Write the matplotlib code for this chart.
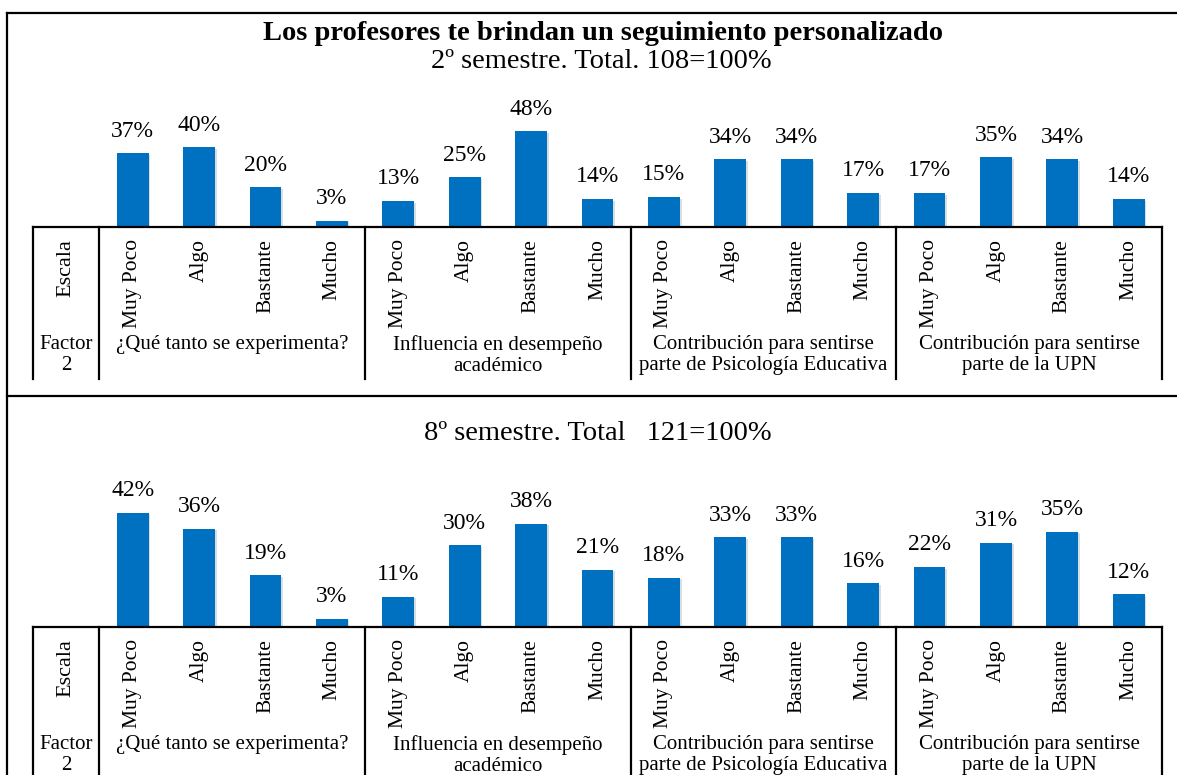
import numpy as np
import matplotlib
matplotlib.use('Agg')
import matplotlib.pyplot as plt
from matplotlib import transforms
from matplotlib import patheffects
from matplotlib.lines import Line2D

plt.rcParams['font.family'] = ['Liberation Serif', 'DejaVu Serif']

# Datos
escala = ['Muy Poco', 'Algo', 'Bastante', 'Mucho']
grupos = ['¿Qué tanto se experimenta?',
          'Influencia en desempeño\nacadémico',
          'Contribución para sentirse\nparte de Psicología Educativa',
          'Contribución para sentirse\nparte de la UPN']
sem2 = [37, 40, 20, 3, 13, 25, 48, 14, 15, 34, 34, 17, 17, 35, 34, 14]
sem8 = [42, 36, 19, 3, 11, 30, 38, 21, 18, 33, 33, 16, 22, 31, 35, 12]
titulo = 'Los profesores te brindan un seguimiento personalizado'
sub2 = '2º semestre. Total. 108=100%'
sub8 = '8º semestre. Total   121=100%'

AZUL = '#0070C0'
W, H = 1177, 775


def fx(px):
    return px / W


def fy(py):
    return 1 - py / H


fig = plt.figure(figsize=(W / 100, H / 100), dpi=100)

# Marcos de los paneles
fig.add_artist(Line2D([fx(7), 1.0], [fy(13), fy(13)], color='black', lw=1.6))
fig.add_artist(Line2D([fx(7), 1.0], [fy(396), fy(396)], color='black', lw=1.6))
fig.add_artist(Line2D([fx(7), fx(7)], [fy(13), 0.0], color='black', lw=1.6))

sombra = [patheffects.SimplePatchShadow(offset=(1.2, -1), alpha=0.15), patheffects.Normal()]


def panel(eje_y, alto, valores, ymax):
    ax = fig.add_axes([fx(33), fy(eje_y), (1162 - 33) / W, alto / H])
    n = len(valores)
    x = np.arange(n) + 1.5  # la primera columna es "Escala"
    rects = ax.bar(x, valores, width=0.48, color=AZUL)
    for r, v in zip(rects, valores):
        r.set_path_effects(sombra)
        ax.annotate(f'{v}%', (r.get_x() + r.get_width() / 2, r.get_height()),
                    xytext=(0, 12), textcoords='offset points',
                    ha='center', va='baseline', fontsize=17)
    ax.set_xlim(0, n + 1)
    ax.set_ylim(0, ymax)
    ax.axis('off')
    ax.axhline(0, color='black', lw=1.6, clip_on=False)

    tr = transforms.blended_transform_factory(ax.transData, fig.transFigure)
    # separadores verticales
    for xs in [0, 1, 5, 9, 13, 17]:
        fig.add_artist(Line2D([xs, xs], [fy(eje_y), fy(eje_y + 152)],
                              transform=tr, color='black', lw=1.6))
    # etiquetas de escala
    ax.text(0.5, fy(eje_y + 12), 'Escala', transform=tr, rotation=90,
            ha='center', va='top', fontsize=16)
    for i in range(n):
        ax.text(x[i], fy(eje_y + 12), escala[i % 4], transform=tr, rotation=90,
                ha='center', va='top', fontsize=15.5)
    # factor y grupos
    ax.text(0.5, fy(eje_y + 108), 'Factor\n2', transform=tr,
            ha='center', va='top', fontsize=15, linespacing=1.12)
    for g, nombre in enumerate(grupos):
        ax.text(3 + 4 * g, fy(eje_y + 108), nombre, transform=tr,
                ha='center', va='top', fontsize=15, linespacing=1.12)
    return ax


panel(227, 227 - 13, sem2, 107.5)
panel(627, 627 - 397, sem8, 84.5)

# Titulos
fig.text(fx(603), fy(33), titulo, ha='center', va='center', fontsize=20.5, fontweight='bold')
fig.text(fx(601), fy(61), sub2, ha='center', va='center', fontsize=20.5)
fig.text(fx(598), fy(433), sub8, ha='center', va='center', fontsize=20.5)

plt.savefig('out.png', dpi=100)
